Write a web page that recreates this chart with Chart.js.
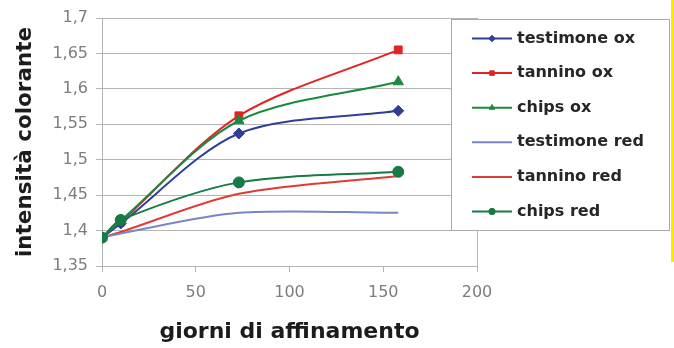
<!DOCTYPE html>
<html>
<head>
<meta charset="utf-8">
<script src="https://cdn.jsdelivr.net/npm/chart.js@4"></script>
<style>
  html, body { margin: 0; padding: 0; background: #ffffff; }
  #wrap { position: relative; width: 674px; height: 348px; }
  #edge { position: absolute; left: 671px; top: 0; width: 3px; height: 262px; background: #ffe800; }
</style>
</head>
<body>
<div id="wrap">
  <canvas id="c" width="674" height="348"></canvas>
  <div id="edge"></div>
</div>
<script>
// Days of ageing at which colour intensity was measured
const days = [0, 10, 73, 158];

// Colour intensity per treatment
const testimoneOx  = [1.390, 1.410, 1.537, 1.569];
const tanninoOx    = [1.390, 1.412, 1.562, 1.655];
const chipsOx      = [1.390, 1.414, 1.555, 1.610];
const testimoneRed = [1.390, 1.396, 1.425, 1.425];
const tanninoRed   = [1.390, 1.398, 1.452, 1.477];
const chipsRed     = [1.390, 1.415, 1.468, 1.483];

const seriesLabels = ['testimone ox', 'tannino ox', 'chips ox', 'testimone red', 'tannino red', 'chips red'];

// y axis ticks, Italian decimal comma
const yTickValues = [1.35, 1.4, 1.45, 1.5, 1.55, 1.6, 1.65, 1.7];
const yTickLabels = ['1,35', '1,4', '1,45', '1,5', '1,55', '1,6', '1,65', '1,7'];
const xTickValues = [0, 50, 100, 150, 200];

const toPoints = vals => vals.map((v, i) => ({ x: days[i], y: v }));

const styles = [
  { color: '#2f3f98', pointStyle: 'rectRot',  radius: 5.5, order: 3 },
  { color: '#e3231f', pointStyle: 'rect',     radius: 5.5, order: 4 },
  { color: '#1b8a40', pointStyle: 'triangle', radius: 6,   order: 1 },
  { color: '#7a85c4', pointStyle: false,      radius: 0,   order: 5 },
  { color: '#de3b36', pointStyle: false,      radius: 0,   order: 6 },
  { color: '#177a44', pointStyle: 'circle',   radius: 5.5, order: 0 }
];
const seriesValues = [testimoneOx, tanninoOx, chipsOx, testimoneRed, tanninoRed, chipsRed];

const datasets = seriesValues.map((vals, i) => ({
  label: seriesLabels[i],
  data: toPoints(vals),
  borderColor: styles[i].color,
  backgroundColor: styles[i].color,
  borderWidth: 2,
  pointStyle: styles[i].pointStyle || 'circle',
  pointRadius: styles[i].radius,
  pointBorderWidth: 1,
  pointBorderColor: styles[i].color,
  pointBackgroundColor: styles[i].color,
  tension: 0.3,
  order: styles[i].order
}));

// Boxed legend overlapping the right part of the plot
const boxLegend = {
  id: 'boxLegend',
  afterDraw(chart) {
    const ctx = chart.ctx;
    const L = 451.5, T = 19.5, R = 669.5, B = 230.5;
    ctx.save();
    ctx.fillStyle = '#ffffff';
    ctx.fillRect(L, T, R - L, B - T);
    ctx.strokeStyle = '#a9a9a9';
    ctx.lineWidth = 1;
    ctx.strokeRect(L, T, R - L, B - T);
    chart.data.datasets.forEach((ds, i) => {
      const y = 38.5 + i * 34.6;
      ctx.strokeStyle = ds.borderColor;
      ctx.lineWidth = 2;
      ctx.beginPath();
      ctx.moveTo(472, y);
      ctx.lineTo(512, y);
      ctx.stroke();
      if (ds.pointRadius > 0) {
        ctx.fillStyle = ds.pointBackgroundColor;
        ctx.strokeStyle = ds.pointBorderColor;
        ctx.lineWidth = 1;
        Chart.helpers.drawPoint(ctx, { pointStyle: ds.pointStyle, radius: 3.2, rotation: 0, borderWidth: 1 }, 492, y);
      }
      ctx.fillStyle = '#262626';
      ctx.font = 'bold 16px "DejaVu Sans"';
      ctx.textBaseline = 'middle';
      ctx.textAlign = 'left';
      ctx.fillText(ds.label, 517, y);
    });
    ctx.restore();
  }
};

const gridGray = '#b4b4b4';

new Chart(document.getElementById('c'), {
  type: 'line',
  data: { datasets },
  options: {
    responsive: false,
    animation: false,
    devicePixelRatio: 1,
    layout: { padding: { left: 0, right: 197, top: 18, bottom: 0 } },
    plugins: { legend: { display: false }, tooltip: { enabled: false } },
    scales: {
      x: {
        type: 'linear',
        min: 0, max: 200,
        afterBuildTicks: s => { s.ticks = xTickValues.map(v => ({ value: v })); },
        afterFit: s => { s.height = 82; },
        ticks: { font: { family: 'DejaVu Sans', size: 16 }, color: '#7d7d7d', padding: 11, maxRotation: 0 },
        grid: {
          color: c => (c.tick && c.tick.value === 200) ? gridGray : 'rgba(0,0,0,0)',
          tickColor: gridGray,
          tickLength: 6,
          lineWidth: 1
        },
        border: { display: true, color: gridGray, width: 1 },
        title: {
          display: true,
          text: 'giorni di affinamento',
          font: { family: 'DejaVu Sans', size: 22, weight: 'bold' },
          color: '#1c1c1c',
          padding: { top: 0, bottom: 3 }
        }
      },
      y: {
        type: 'linear',
        min: 1.35, max: 1.7,
        afterBuildTicks: s => { s.ticks = yTickValues.map(v => ({ value: v })); },
        afterFit: s => { s.width = 102; },
        ticks: {
          font: { family: 'DejaVu Sans', size: 16 },
          color: '#7d7d7d',
          padding: 8,
          callback: v => yTickLabels[yTickValues.findIndex(t => Math.abs(t - v) < 1e-6)]
        },
        grid: { color: gridGray, tickColor: gridGray, tickLength: 6, lineWidth: 1 },
        border: { display: true, color: gridGray, width: 1 },
        title: {
          display: true,
          text: 'intensità colorante',
          font: { family: 'DejaVu Sans', size: 21.5, weight: 'bold' },
          color: '#1c1c1c',
          padding: { top: 13, bottom: 0 }
        }
      }
    }
  },
  plugins: [boxLegend]
});
</script>
</body>
</html>
